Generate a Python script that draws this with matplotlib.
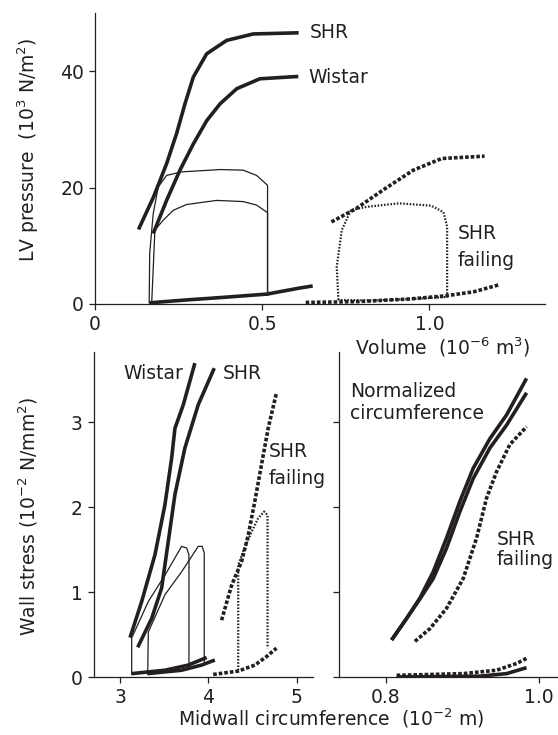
import numpy as np
import matplotlib
matplotlib.use('Agg')
import matplotlib.pyplot as plt

plt.rcParams['font.family'] = ['DejaVu Sans']
plt.rcParams['mathtext.fontset'] = 'dejavusans'
plt.rcParams['font.size'] = 13.5

ink = '#231f20'

# ---- top panel: pressure-volume ----
shr_es_v = [0.130, 0.175, 0.214, 0.244, 0.269, 0.294, 0.334, 0.394, 0.473, 0.609]
shr_es_p = [12.8, 18.4, 24.1, 29.3, 34.4, 39.0, 43.0, 45.3, 46.4, 46.6]
wis_es_v = [0.174, 0.214, 0.254, 0.294, 0.334, 0.374, 0.424, 0.493, 0.608]
wis_es_p = [12.1, 17.8, 23.0, 27.5, 31.5, 34.4, 37.0, 38.7, 39.1]
loop1_v = [0.162, 0.1635, 0.174, 0.189, 0.214, 0.259, 0.374, 0.443, 0.483, 0.516, 0.516]
loop1_p = [0.2, 8.7, 15.5, 20.1, 22.1, 22.7, 23.1, 23.0, 22.1, 20.4, 1.5]
loop2_v = [0.1695, 0.174, 0.179, 0.204, 0.234, 0.274, 0.364, 0.443, 0.483, 0.516, 0.516]
loop2_p = [0.2, 6.0, 12.7, 14.4, 16.1, 17.1, 17.8, 17.6, 17.0, 15.7, 1.5]
ed_v = [0.162, 0.274, 0.374, 0.514, 0.608, 0.651]
ed_p = [0.2, 0.7, 1.1, 1.7, 2.7, 3.1]
fail_ed_v = [0.630, 0.781, 0.941, 1.048, 1.133, 1.208]
fail_ed_p = [0.27, 0.4, 0.86, 1.4, 2.1, 3.3]
fail_es_v = [0.707, 0.781, 0.867, 0.952, 1.037, 1.165]
fail_es_p = [14.1, 16.4, 19.8, 23.0, 25.0, 25.4]
fail_loop_v = [0.728, 0.723, 0.738, 0.765, 0.813, 0.909, 1.005, 1.042, 1.053, 1.053, 0.94, 0.83, 0.728]
fail_loop_p = [0.7, 6.4, 12.7, 16.1, 16.7, 17.3, 16.9, 15.8, 13.3, 1.2, 0.85, 0.6, 0.7]

# ---- bottom left: wall stress vs midwall circumference ----
wis_s_c = [3.113, 3.245, 3.395, 3.508, 3.584, 3.621, 3.716, 3.847]
wis_s_s = [0.464, 0.89, 1.44, 2.03, 2.58, 2.93, 3.21, 3.70]
shr_s_c = [3.20, 3.358, 3.471, 3.546, 3.621, 3.734, 3.885, 4.066]
shr_s_s = [0.35, 0.69, 1.05, 1.60, 2.15, 2.70, 3.21, 3.64]
loopA_c = [3.132, 3.132, 3.32, 3.508, 3.697, 3.754, 3.78, 3.78]
loopA_s = [0.03, 0.46, 0.89, 1.20, 1.54, 1.52, 1.44, 0.12]
loopB_c = [3.313, 3.32, 3.508, 3.697, 3.885, 3.93, 3.953, 3.953]
loopB_s = [0.03, 0.53, 0.97, 1.24, 1.54, 1.54, 1.46, 0.18]
wis_ed_c = [3.132, 3.508, 3.77, 3.98]
wis_ed_s = [0.04, 0.08, 0.14, 0.23]
shr_ed_c = [3.313, 3.697, 3.92, 4.073]
shr_ed_s = [0.04, 0.08, 0.14, 0.20]
fail_s_c = [4.149, 4.262, 4.375, 4.45, 4.525, 4.60, 4.676, 4.77]
fail_s_s = [0.67, 1.08, 1.36, 1.67, 2.07, 2.50, 2.93, 3.35]
fail_loop_c = [4.337, 4.337, 4.393, 4.488, 4.562, 4.63, 4.669, 4.669]
fail_loop_s = [0.08, 1.32, 1.48, 1.71, 1.87, 1.95, 1.91, 0.34]
fail_sed_c = [4.054, 4.337, 4.525, 4.657, 4.77]
fail_sed_s = [0.03, 0.07, 0.14, 0.24, 0.34]

# ---- bottom right: normalized circumference ----
n1_c = [0.8074, 0.827, 0.8444, 0.8618, 0.8793, 0.8967, 0.9141, 0.936, 0.9578, 0.9839]
n1_s = [0.436, 0.69, 0.93, 1.24, 1.64, 2.07, 2.46, 2.81, 3.09, 3.52]
n2_c = [0.8074, 0.827, 0.8444, 0.8618, 0.8793, 0.8967, 0.9141, 0.936, 0.9578, 0.9839]
n2_s = [0.436, 0.69, 0.92, 1.16, 1.52, 1.95, 2.34, 2.70, 2.97, 3.35]
nf_c = [0.8379, 0.8575, 0.8793, 0.901, 0.9186, 0.9316, 0.9447, 0.962, 0.9839]
nf_s = [0.42, 0.57, 0.81, 1.16, 1.64, 2.11, 2.42, 2.74, 2.95]
nf_ed_c = [0.814, 0.901, 0.9447, 0.971, 0.9839]
nf_ed_s = [0.02, 0.04, 0.08, 0.16, 0.22]
n_ed_c = [0.814, 0.923, 0.9578, 0.9839]
n_ed_s = [0.0, 0.01, 0.04, 0.11]

thick = dict(color=ink, lw=2.6, solid_capstyle='butt', solid_joinstyle='round')
thin = dict(color=ink, lw=0.9)
dash = dict(color=ink, lw=2.6, linestyle=(0, (1.0, 0.55)), dash_capstyle='butt')
dot = dict(color=ink, lw=1.6, linestyle=(0, (0.7, 0.75)))


def style(ax):
    for s in ['top', 'right']:
        ax.spines[s].set_visible(False)
    for s in ['left', 'bottom']:
        ax.spines[s].set_linewidth(0.9)
        ax.spines[s].set_color(ink)
    ax.tick_params(direction='out', length=4, width=0.9, colors=ink, pad=4)


fig = plt.figure(figsize=(5.58, 7.35), dpi=100)

ax1 = fig.add_axes([0.1703, 0.5864, 0.8065, 0.3959])
ax1.plot(shr_es_v, shr_es_p, **thick)
ax1.plot(wis_es_v, wis_es_p, **thick)
ax1.plot(loop1_v, loop1_p, **thin)
ax1.plot(loop2_v, loop2_p, **thin)
ax1.plot(ed_v, ed_p, **thick)
ax1.plot(fail_ed_v, fail_ed_p, **dash)
ax1.plot(fail_es_v, fail_es_p, **dash)
ax1.plot(fail_loop_v, fail_loop_p, **dot)
ax1.text(0.643, 46.6, 'SHR', va='center', color=ink)
ax1.text(0.637, 39.0, 'Wistar', va='center', color=ink)
ax1.text(1.085, 12.1, 'SHR', va='center', color=ink)
ax1.text(1.085, 7.5, 'failing', va='center', color=ink)
ax1.set_xlim(0, 1.346)
ax1.set_ylim(0, 50)
ax1.set_xticks([0, 0.5, 1.0])
ax1.set_xticklabels(['0', '0.5', '1.0'])
ax1.set_yticks([0, 20, 40])
style(ax1)
fig.text(0.05, 0.796, r'LV pressure  (10$^3$ N/m$^2$)', rotation=90,
         ha='center', va='center', color=ink)
fig.text(0.793, 0.528, r'Volume  (10$^{-6}$ m$^3$)', ha='center', va='center', color=ink)

ax2 = fig.add_axes([0.1676, 0.0789, 0.3928, 0.4421])
ax2.plot(wis_s_c, wis_s_s, **thick)
ax2.plot(shr_s_c, shr_s_s, **thick)
ax2.plot(loopA_c, loopA_s, **thin)
ax2.plot(loopB_c, loopB_s, **thin)
ax2.plot(wis_ed_c, wis_ed_s, **thick)
ax2.plot(shr_ed_c, shr_ed_s, **thick)
ax2.plot(fail_s_c, fail_s_s, **dash)
ax2.plot(fail_sed_c, fail_sed_s, **dash)
ax2.plot(fail_loop_c, fail_loop_s, **dot)
ax2.text(3.04, 3.58, 'Wistar', va='center', color=ink)
ax2.text(4.16, 3.58, 'SHR', va='center', color=ink)
ax2.text(4.68, 2.66, 'SHR', va='center', color=ink)
ax2.text(4.68, 2.34, 'failing', va='center', color=ink)
ax2.set_xlim(2.70, 5.18)
ax2.set_ylim(0, 3.83)
ax2.set_xticks([3, 4, 5])
ax2.set_yticks([0, 1, 2, 3])
style(ax2)
fig.text(0.05, 0.297, r'Wall stress (10$^{-2}$ N/mm$^2$)', rotation=90,
         ha='center', va='center', color=ink)
fig.text(0.594, 0.023, r'Midwall circumference  (10$^{-2}$ m)', ha='center',
         va='center', color=ink)

ax3 = fig.add_axes([0.6075, 0.0789, 0.3925, 0.4421])
ax3.plot(n1_c, n1_s, **thick)
ax3.plot(n2_c, n2_s, **thick)
ax3.plot(nf_c, nf_s, **dash)
ax3.plot(nf_ed_c, nf_ed_s, **dash)
ax3.plot(n_ed_c, n_ed_s, **thick)
ax3.text(0.753, 3.36, 'Normalized', va='center', color=ink)
ax3.text(0.753, 3.10, 'circumference', va='center', color=ink)
ax3.text(0.9447, 1.62, 'SHR', va='center', color=ink)
ax3.text(0.9447, 1.38, 'failing', va='center', color=ink)
ax3.set_xlim(0.7386, 1.025)
ax3.set_ylim(0, 3.83)
ax3.set_xticks([0.8, 1.0])
ax3.set_xticklabels(['0.8', '1.0'])
ax3.set_yticks([0, 1, 2, 3])
ax3.set_yticklabels([])
style(ax3)

fig.savefig('out.png', dpi=100)
